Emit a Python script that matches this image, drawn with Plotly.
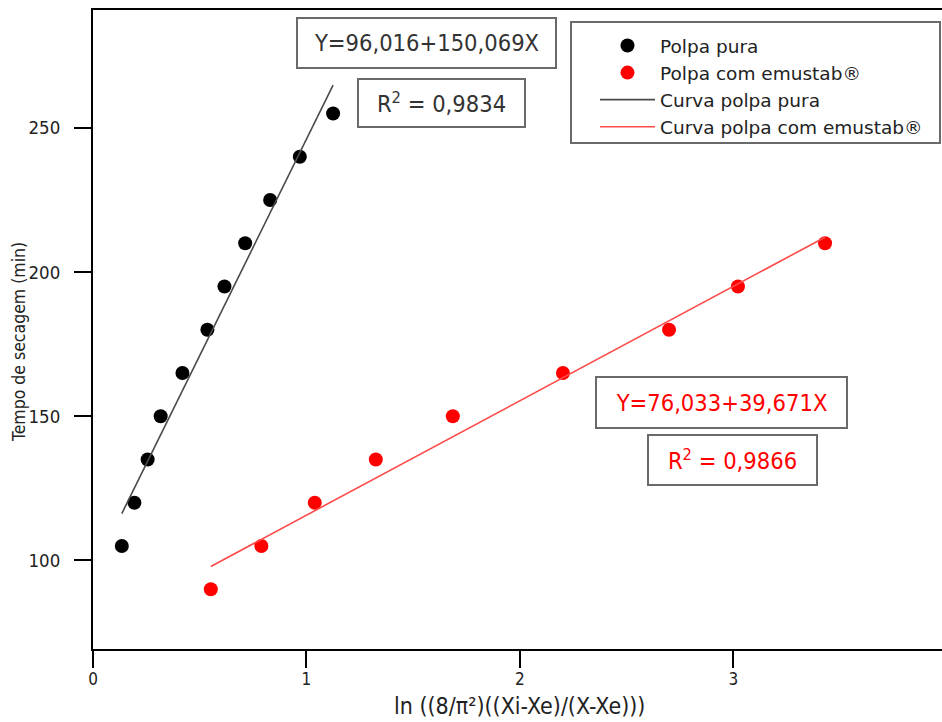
import plotly.graph_objects as go

# Data
x_pura = [0.135, 0.194, 0.256, 0.317, 0.419, 0.536, 0.616, 0.713, 0.830, 0.969, 1.125]
y_pura = [105, 120, 135, 150, 165, 180, 195, 210, 225, 240, 255]

x_emu = [0.552, 0.789, 1.039, 1.325, 1.686, 2.202, 2.699, 3.022, 3.430]
y_emu = [90, 105, 120, 135, 150, 165, 180, 195, 210]

# Linear fits shown in the chart
fit_pura = (96.016, 150.069)
fit_emu = (76.033, 39.671)

x_ticks = [0, 1, 2, 3, 4]
y_ticks = [100, 150, 200, 250]

FONT = "Tahoma, 'DejaVu Sans Condensed', 'DejaVu Sans', sans-serif"
FONT_WIDE = "Tahoma, 'DejaVu Sans', sans-serif"

def fit_line(xs, coef):
    x0, x1 = min(xs), max(xs)
    return [x0, x1], [coef[0] + coef[1] * x0, coef[0] + coef[1] * x1]

fig = go.Figure()

lx, ly = fit_line(x_pura, fit_pura)
ex, ey = fit_line(x_emu, fit_emu)

fig.add_trace(go.Scatter(x=x_pura, y=y_pura, mode="markers", name="Polpa pura",
                         marker=dict(color="black", size=14)))
fig.add_trace(go.Scatter(x=x_emu, y=y_emu, mode="markers", name="Polpa com emustab®",
                         marker=dict(color="#ff0000", size=14)))
fig.add_trace(go.Scatter(x=lx, y=ly, mode="lines", name="Curva polpa pura",
                         line=dict(color="#4a4a4a", width=1.6)))
fig.add_trace(go.Scatter(x=ex, y=ey, mode="lines", name="Curva polpa com emustab®",
                         line=dict(color="#ff4a4a", width=1.6)))

W, H = 942, 722
ML, MR, MT, MB = 93, 0, 10, 73
PW, PH = W - ML - MR, H - MT - MB

def px(xp):
    return (xp - ML) / PW

def py(yp):
    return (H - MB - yp) / PH

def box(text, cx, cy, w, h, color):
    return dict(x=px(cx), y=py(cy), xref="paper", yref="paper", text=text,
                showarrow=False, xanchor="center", yanchor="middle",
                font=dict(family=FONT, size=23.5, color=color),
                bordercolor="#6a6a6a", borderwidth=2, borderpad=0,
                width=w - 4, height=h - 4)

annotations = [
    box("Y=96,016+150,069X", 426.5, 43, 261, 52, "#333333"),
    box("R<sup>2</sup> = 0,9834", 441.5, 103, 169, 50, "#333333"),
    box("Y=76,033+39,671X", 721.5, 402.5, 253, 53, "#ff0000"),
    box("R<sup>2</sup> = 0,9866", 732.5, 460, 171, 52, "#ff0000"),
    dict(x=px(519), y=py(721), xref="paper", yref="paper",
         text="ln ((8/π²)((Xi-Xe)/(X-Xe)))", showarrow=False,
         xanchor="center", yanchor="bottom",
         font=dict(family=FONT, size=23, color="#222222")),
    dict(x=px(19), y=py(342), xref="paper", yref="paper",
         text="Tempo de secagem (min)", showarrow=False, textangle=-90,
         xanchor="center", yanchor="middle",
         font=dict(family=FONT, size=17.5, color="#222222")),
]

fig.update_layout(
    width=W, height=H,
    margin=dict(l=ML, r=MR, t=MT, b=MB),
    paper_bgcolor="white", plot_bgcolor="white",
    font=dict(family=FONT, color="#222222"),
    showlegend=True,
    legend=dict(x=px(595), y=py(27), xanchor="left", yanchor="top",
                bgcolor="rgba(0,0,0,0)", borderwidth=0,
                font=dict(family=FONT_WIDE, size=18.5, color="#222222"),
                itemwidth=55, tracegroupgap=0),
    annotations=annotations,
    shapes=[dict(type="rect", xref="paper", yref="paper",
                 x0=px(571), x1=px(940), y0=py(143), y1=py(22),
                 line=dict(color="#6a6a6a", width=2))],
    xaxis=dict(range=[0, 3.978], tickvals=x_ticks, ticks="outside", ticklen=17,
               tickwidth=2, tickcolor="black", showline=True, linecolor="black",
               linewidth=2, mirror=True, showgrid=False, zeroline=False,
               ticklabelstandoff=-3,
               tickfont=dict(family=FONT, size=17, color="#222222")),
    yaxis=dict(range=[69.3, 290.9], tickvals=y_ticks, ticks="outside", ticklen=17,
               tickwidth=2, tickcolor="black", showline=True, linecolor="black",
               linewidth=2, showgrid=False, zeroline=False, ticklabelstandoff=10,
               tickfont=dict(family=FONT, size=18.5, color="#222222")),
)

fig.write_html("out.html")
